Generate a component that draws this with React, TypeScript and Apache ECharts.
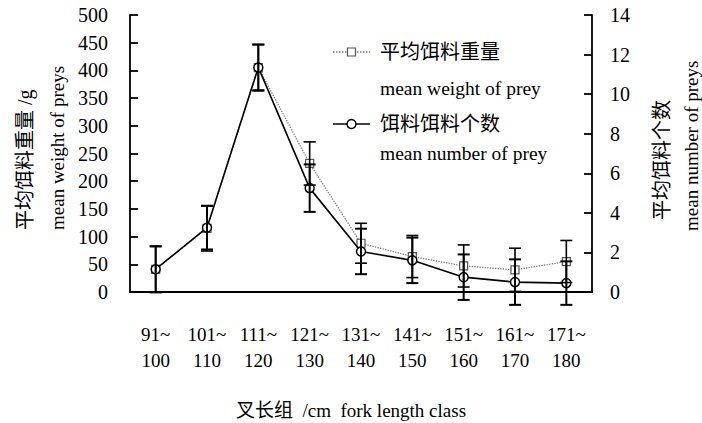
import React, { useEffect, useRef } from 'react';
import * as echarts from 'echarts';

const categories = ['91~100', '101~110', '111~120', '121~130', '131~140', '141~150', '151~160', '161~170', '171~180'];
const weightValues = [41, 115, 405, 232, 88, 64, 47, 40, 55];
const weightErrors = [42, 41, 42, 39, 36, 38, 38, 39, 38];
const numberValues = [1.15, 3.25, 11.35, 5.25, 2.05, 1.6, 0.75, 0.5, 0.45];
const numberErrors = [1.15, 1.1, 1.15, 1.2, 1.15, 1.15, 1.15, 1.15, 1.1];
const leftAxisRange = [0, 500, 50];
const rightAxisRange = [0, 14, 2];

const FONT = '"Liberation Serif", "Noto Sans CJK SC", serif';

function errorRender(lineWidth: number) {
  return (params: any, api: any) => {
    const i = api.value(0);
    const v = api.value(1);
    const e = api.value(2);
    const hi = api.coord([i, v + e]);
    const lo = api.coord([i, v - e]);
    const hw = 6;
    const style = { stroke: '#000', lineWidth, fill: 'none' };
    return {
      type: 'group',
      children: [
        { type: 'line', shape: { x1: hi[0], y1: hi[1], x2: lo[0], y2: lo[1] }, style },
        { type: 'line', shape: { x1: hi[0] - hw, y1: hi[1], x2: hi[0] + hw, y2: hi[1] }, style },
        { type: 'line', shape: { x1: lo[0] - hw, y1: lo[1], x2: lo[0] + hw, y2: lo[1] }, style },
      ],
    };
  };
}

export default function App() {
  const ref = useRef<HTMLDivElement>(null);
  useEffect(() => {
    if (!ref.current) return;
    const chart = echarts.init(ref.current, undefined, { renderer: 'svg' });
    const axisLineStyle = { color: '#000', width: 1.8 };
    const txt = (x: number, y: number, text: string, size: number, rotation = 0, align = 'left') => ({
      type: 'text',
      x,
      y,
      rotation,
      style: { text, fontFamily: FONT, fontSize: size, fill: '#000', align, verticalAlign: 'middle' },
    });
    const option: any = {
      animation: false,
      backgroundColor: '#fff',
      grid: { left: 130, right: 110, top: 15, bottom: 131, containLabel: false },
      xAxis: {
        type: 'category',
        data: categories,
        boundaryGap: true,
        axisLine: { lineStyle: axisLineStyle },
        axisTick: { inside: true, length: 8, alignWithLabel: false, lineStyle: { color: '#000', width: 1.8 } },
        axisLabel: {
          interval: 0,
          margin: 29,
          fontFamily: FONT,
          fontSize: 19,
          color: '#000',
          lineHeight: 26,
          formatter: (v: string) => v.replace('~', '~\n'),
        },
        splitLine: { show: false },
      },
      yAxis: [
        {
          type: 'value',
          min: leftAxisRange[0],
          max: leftAxisRange[1],
          interval: leftAxisRange[2],
          position: 'left',
          axisLine: { show: true, lineStyle: axisLineStyle },
          axisTick: { show: true, inside: true, length: 8, lineStyle: { color: '#000', width: 1.8 } },
          axisLabel: { margin: 22, fontFamily: FONT, fontSize: 20, color: '#000' },
          splitLine: { show: false },
        },
        {
          type: 'value',
          min: rightAxisRange[0],
          max: rightAxisRange[1],
          interval: rightAxisRange[2],
          position: 'right',
          axisLine: { show: true, lineStyle: axisLineStyle },
          axisTick: { show: true, inside: true, length: 8, lineStyle: { color: '#000', width: 1.8 } },
          axisLabel: { margin: 18, fontFamily: FONT, fontSize: 20, color: '#000' },
          splitLine: { show: false },
        },
      ],
      series: [
        {
          name: '平均饵料重量',
          type: 'line',
          yAxisIndex: 0,
          data: weightValues,
          symbol: 'rect',
          symbolSize: 8,
          lineStyle: { color: '#777', width: 1.3, type: 'dotted' },
          itemStyle: { color: '#fff', borderColor: '#555', borderWidth: 1.2 },
          z: 2,
        },
        {
          name: '饵料饵料个数',
          type: 'line',
          yAxisIndex: 1,
          data: numberValues,
          symbol: 'circle',
          symbolSize: 9,
          lineStyle: { color: '#000', width: 1.6 },
          itemStyle: { color: '#fff', borderColor: '#000', borderWidth: 1.5 },
          z: 3,
        },
        {
          type: 'custom',
          yAxisIndex: 0,
          renderItem: errorRender(1.6),
          encode: { x: 0, y: 1 },
          data: categories.map((c, i) => [i, weightValues[i], weightErrors[i]]),
          z: 5,
        },
        {
          type: 'custom',
          yAxisIndex: 1,
          renderItem: errorRender(2),
          encode: { x: 0, y: 1 },
          data: categories.map((c, i) => [i, numberValues[i], numberErrors[i]]),
          z: 5,
        },
      ],
      graphic: [
        // legend
        { type: 'line', shape: { x1: 333, y1: 52, x2: 370, y2: 52 }, style: { stroke: '#777', lineWidth: 1.3, lineDash: [1.5, 1.5] } },
        { type: 'rect', shape: { x: 347.5, y: 48, width: 8, height: 8 }, style: { fill: '#fff', stroke: '#555', lineWidth: 1.2 } },
        txt(380, 52, '平均饵料重量', 20),
        txt(380, 88, 'mean weight of prey', 19.5),
        { type: 'line', shape: { x1: 333, y1: 124, x2: 370, y2: 124 }, style: { stroke: '#000', lineWidth: 1.6 } },
        { type: 'circle', shape: { cx: 351.5, cy: 124, r: 4.5 }, style: { fill: '#fff', stroke: '#000', lineWidth: 1.5 } },
        txt(380, 124, '饵料饵料个数', 20),
        txt(380, 153, 'mean number of prey', 19.5),
        // axis names
        txt(25, 230, '平均饵料重量 /g', 20, Math.PI / 2),
        txt(57, 230, 'mean weight of preys', 19, Math.PI / 2),
        txt(662, 220, '平均饵料个数', 20, Math.PI / 2),
        txt(691, 231, 'mean number of preys', 19, Math.PI / 2),
        txt(351, 410, '叉长组  /cm  fork length class', 19, 0, 'center'),
      ],
    };
    chart.setOption(option);
    return () => chart.dispose();
  }, []);
  return <div ref={ref} style={{ position: 'absolute', left: 0, top: 0, width: 702, height: 423 }} />;
}
